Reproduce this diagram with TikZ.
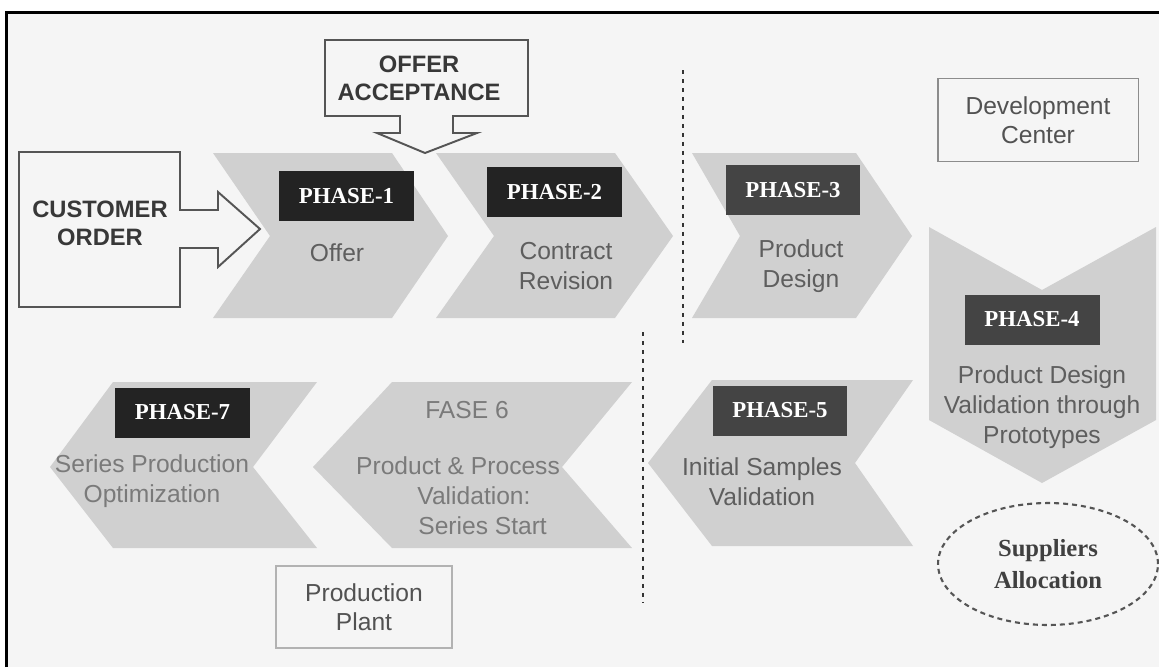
\documentclass[tikz,border=0pt]{standalone}
\usepackage{fontspec}
\setmainfont{Liberation Serif}
\setsansfont{Liberation Sans}
\usetikzlibrary{shapes.geometric}
\definecolor{pagebg}{HTML}{F5F5F5}
\definecolor{chevgray}{HTML}{D0D0D0}
\definecolor{labdark}{HTML}{232323}
\definecolor{labmid}{HTML}{444444}
\definecolor{outl}{HTML}{555555}
\definecolor{txta}{HTML}{5E5E5E}
\definecolor{txtb}{HTML}{7A7A7A}

\begin{document}
\begin{tikzpicture}[x=0.02cm,y=-0.02cm,
  chev/.style={fill=chevgray},
  blockarrow/.style={draw=outl,fill=pagebg,line width=1.1pt,line join=miter},
  phaselab/.style={fill=#1,text=white,font=\fontsize{13}{15}\selectfont\bfseries,minimum width=2.7cm,minimum height=1cm,inner sep=0pt},
  desc/.style={text=#1,font=\sffamily\fontsize{14}{17}\selectfont,align=center,inner sep=0pt},
  caps/.style={text=black!78,font=\sffamily\bfseries\fontsize{13.5}{15.8}\selectfont,align=center,inner sep=0pt},
  sitebox/.style={draw=#1,fill=pagebg,line width=1.1pt,text=black!68,font=\sffamily\fontsize{14}{16.5}\selectfont,align=center,inner sep=0pt},
  sepline/.style={draw=black!80,line width=1.3pt,dash pattern=on 0.08cm off 0.1cm}]
\useasboundingbox (0,0) rectangle (1159,667);
\fill[white] (0,0) rectangle (1159,667);
\fill[pagebg] (6,12) rectangle (1159,667);
\draw[line width=1.2pt] (6.5,667) -- (6.5,12.5) -- (1159,12.5);

% upper row
\fill[chev] (213,153) -- (392,153) -- (448,236) -- (392,318) -- (213,318) -- (270,236) -- cycle;
\fill[chev] (436,153) -- (615,153) -- (673,236) -- (615,318) -- (436,318) -- (494,236) -- cycle;
\fill[chev] (692,153) -- (856,153) -- (912,236) -- (856,318) -- (692,318) -- (740,236) -- cycle;
\fill[chev] (929,227) -- (1042,290) -- (1156,227) -- (1156,420) -- (1042,483) -- (929,420) -- cycle;
% lower row
\fill[chev] (648,463) -- (712,380) -- (913,380) -- (855,463) -- (913,546) -- (712,546) -- cycle;
\fill[chev] (313,467) -- (392,382) -- (632,382) -- (562,467) -- (632,548) -- (392,548) -- cycle;
\fill[chev] (50,467) -- (113,382) -- (317,382) -- (253,467) -- (317,548) -- (113,548) -- cycle;

\draw[sepline] (683,70) -- (683,343);
\draw[sepline] (643,332) -- (643,603);

\draw[blockarrow] (19,152) -- (180,152) -- (180,210) -- (218,210) -- (218,192) -- (260,229)
  -- (218,267) -- (218,248) -- (180,248) -- (180,307) -- (19,307) -- cycle;
\node[caps] (cust) at (100,223) {CUSTOMER\\ORDER};
\draw[blockarrow] (325,40) -- (528,40) -- (528,116) -- (453,116) -- (453,133) -- (477,133) -- (425,153)
  -- (377,133) -- (400,133) -- (400,116) -- (325,116) -- cycle;
\node[caps] (offacc) at (419,78) {OFFER\\ACCEPTANCE};

\node[phaselab=labdark] (lab1) at (346.5,196) {PHASE-1};
\node[phaselab=labdark] (lab2) at (554.5,192) {PHASE-2};
\node[phaselab=labmid] (lab3) at (793,190) {PHASE-3};
\node[phaselab=labmid] (lab4) at (1032,319.5) {PHASE-4};
\node[phaselab=labmid] (lab5) at (780,410.5) {PHASE-5};
\node[phaselab=labdark] (lab7) at (182.5,412.5) {PHASE-7};

\node[desc=txta] (desc1) at (337,253) {Offer};
\node[desc=txta] (desc2) at (566,266) {Contract\\Revision};
\node[desc=txta] (desc3) at (801,266) {Product\\Design};
\node[desc=txta] (desc4) at (1042,407) {Product Design\\Validation through\\Prototypes};
\node[desc=txta] (desc5) at (762,482) {Initial Samples\\Validation};
\node[desc=txtb] (fase6) at (467,410) {FASE 6};
\node[desc=txtb] (desc6) at (458,496) {Product \& Process\\\hspace*{1.3em}Validation:\\\hspace*{2em}Series Start};
\node[desc=txtb] (desc7) at (152,481) {Series Production\\Optimization};

\node[sitebox=black!45,minimum width=4.02cm,minimum height=1.66cm] (devctr) at (1038,120) {Development\\Center};
\node[sitebox=black!30,minimum width=3.52cm,minimum height=1.64cm] (plant) at (364,607) {Production\\Plant};
\node[ellipse,draw=outl,line width=1.2pt,dash pattern=on 0.1cm off 0.08cm,minimum width=4.4cm,minimum height=2.44cm,
  text=black!75,font=\fontsize{14}{18}\selectfont\bfseries,align=center,inner sep=0pt] (suppl) at (1048,564) {Suppliers\\Allocation};
\end{tikzpicture}
\end{document}
